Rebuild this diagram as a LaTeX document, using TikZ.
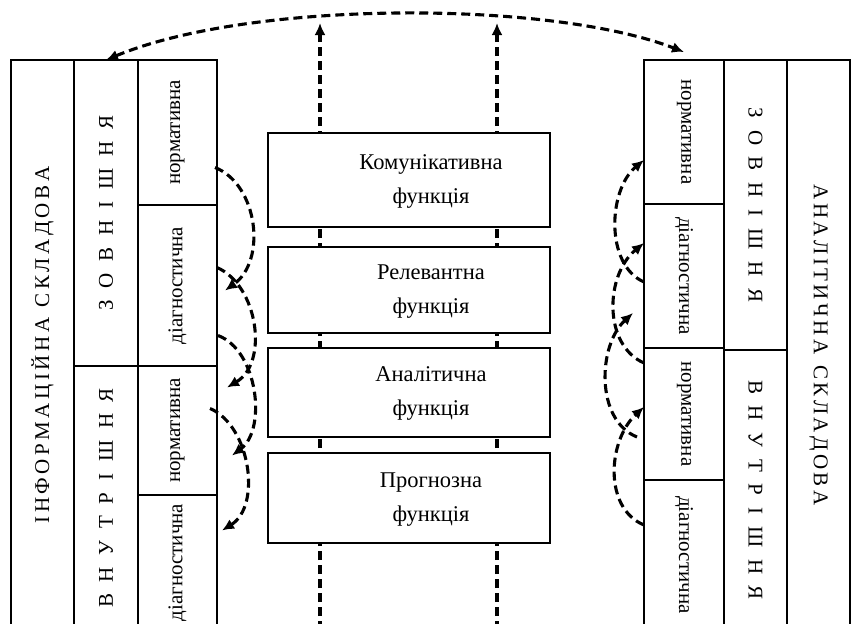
\documentclass[tikz,border=0pt]{standalone}
\usepackage{fontspec}
\setmainfont{Liberation Serif}
\usepackage{tikz}
\usetikzlibrary{positioning, arrows.meta}

\tikzset{
    cell/.style={rectangle, draw, fill=white, line width=1.3pt, inner sep=0pt, outer sep=0pt, font=\fontsize{21}{25}\selectfont},
    funcbox/.style={rectangle, draw, fill=white, line width=1.3pt, inner sep=0pt, outer sep=0pt, minimum width=282pt, font=\fontsize{22.5}{32}\selectfont},
    dasharrow/.style={line width=3.1pt, dash pattern=on 9pt off 5pt, -{Latex[length=12pt, width=11pt]}},
}
\newcommand{\spread}[1]{{\spaceskip=0.56em\relax #1}}
\newcommand{\functext}[2]{\hspace*{44pt}\begin{tabular}{c}#1\\[2pt]#2\end{tabular}}

\begin{document}
\begin{tikzpicture}[x=1pt, y=-1pt]
    \useasboundingbox (0,0) rectangle (852,624);
    \clip (0,0) rectangle (852,624);

    \coordinate (vLb) at (320,630);
    \coordinate (vLt) at (320,23);
    \coordinate (vRb) at (497,630);
    \coordinate (vRt) at (497,23);
    \draw[dasharrow] (vLb) -- (vLt);
    \draw[dasharrow] (vRb) -- (vRt);

    \node[funcbox, minimum height=94pt, anchor=north west] (fComm) at (268,133) {\functext{Комунікативна}{функція}};
    \node[funcbox, minimum height=86pt, below=20pt of fComm] (fRel) {\functext{Релевантна}{функція}};
    \node[funcbox, minimum height=89pt, below=15pt of fRel] (fAnal) {\functext{Аналітична}{функція}};
    \node[funcbox, minimum height=90pt, below=16pt of fAnal] (fProg) {\functext{Прогнозна}{функція}};

    \node[cell, minimum width=63pt, minimum height=570pt, anchor=north west] (infoL) at (11,60) {\rotatebox{90}{І\,Н\,Ф\,О\,Р\,М\,А\,Ц\,І\,Й\,Н\,А\enspace С\,К\,Л\,А\,Д\,О\,В\,А}};
    \node[cell, minimum width=64pt, minimum height=306pt, anchor=north west] (extL) at (infoL.north east) {\rotatebox{90}{\spread{З О В Н І Ш Н Я}}};
    \node[cell, minimum width=64pt, minimum height=264pt, below=0pt of extL] (intL) {\rotatebox{90}{\spread{В Н У Т Р І Ш Н Я}}};
    \node[cell, minimum width=79pt, minimum height=145pt, anchor=north west] (nL1) at (extL.north east) {\rotatebox{90}{нормативна}};
    \node[cell, minimum width=79pt, minimum height=161pt, below=0pt of nL1] (dL1) {\rotatebox{90}{діагностична}};
    \node[cell, minimum width=79pt, minimum height=129pt, below=0pt of dL1] (nL2) {\rotatebox{90}{нормативна}};
    \node[cell, minimum width=79pt, minimum height=135pt, below=0pt of nL2] (dL2) {\rotatebox{90}{діагностична}};

    \node[cell, minimum width=80pt, minimum height=144pt, anchor=north west] (nR1) at (644,60) {\rotatebox{-90}{нормативна}};
    \node[cell, minimum width=80pt, minimum height=144pt, below=0pt of nR1] (dR1) {\rotatebox{-90}{діагностична}};
    \node[cell, minimum width=80pt, minimum height=132pt, below=0pt of dR1] (nR2) {\rotatebox{-90}{нормативна}};
    \node[cell, minimum width=80pt, minimum height=150pt, below=0pt of nR2] (dR2) {\rotatebox{-90}{діагностична}};
    \node[cell, minimum width=63pt, minimum height=290pt, anchor=north west] (extR) at (nR1.north east) {\rotatebox{-90}{\spread{З О В Н І Ш Н Я}}};
    \node[cell, minimum width=63pt, minimum height=280pt, below=0pt of extR] (intR) {\rotatebox{-90}{\spread{В Н У Т Р І Ш Н Я}}};
    \node[cell, minimum width=63pt, minimum height=570pt, anchor=north west] (anR) at (extR.north east) {\rotatebox{-90}{А\,Н\,А\,Л\,І\,Т\,И\,Ч\,Н\,А\enspace С\,К\,Л\,А\,Д\,О\,В\,А}};

    \draw[dasharrow, {Latex[length=12pt, width=11pt]}-{Latex[length=12pt, width=11pt]}] (extL.north) .. controls +(144,-60) and +(-134,-52) .. ([yshift=8pt]nR1.north);

    \draw[dasharrow] ([xshift=-2pt, yshift=-35pt]nL1.east) .. controls +(43,17) and +(42,-30) .. ([xshift=8pt, yshift=-5pt]dL1.east);
    \draw[dasharrow] ([yshift=18pt]dL1.east) .. controls +(41,18) and +(42,-25) .. ([xshift=10pt, yshift=43pt]nL2.east);
    \draw[dasharrow] ([xshift=1pt, yshift=-50pt]dL1.east) .. controls +(40,15) and +(35,-26) .. ([xshift=15pt, yshift=-25pt]nL2.east);
    \draw[dasharrow] ([xshift=-7pt, yshift=22pt]nL2.east) .. controls +(40,17) and +(40,-25) .. ([xshift=5pt, yshift=32pt]dL2.east);

    \draw[dasharrow] ([yshift=-6pt]dR1.west) .. controls +(-39,-17) and +(-36,30) .. ([yshift=-28pt]nR1.west);
    \draw[dasharrow] ([yshift=51pt]nR2.west) .. controls +(-41,-18) and +(-39,32) .. ([yshift=33pt]dR1.west);
    \draw[dasharrow] ([xshift=-7pt, yshift=-23pt]nR2.west) .. controls +(-42,-17) and +(-35,32) .. ([xshift=-11pt, yshift=-37pt]dR1.west);
    \draw[dasharrow] ([yshift=30pt]dR2.west) .. controls +(-41,-17) and +(-36,33) .. ([yshift=7pt]nR2.west);
\end{tikzpicture}
\end{document}
